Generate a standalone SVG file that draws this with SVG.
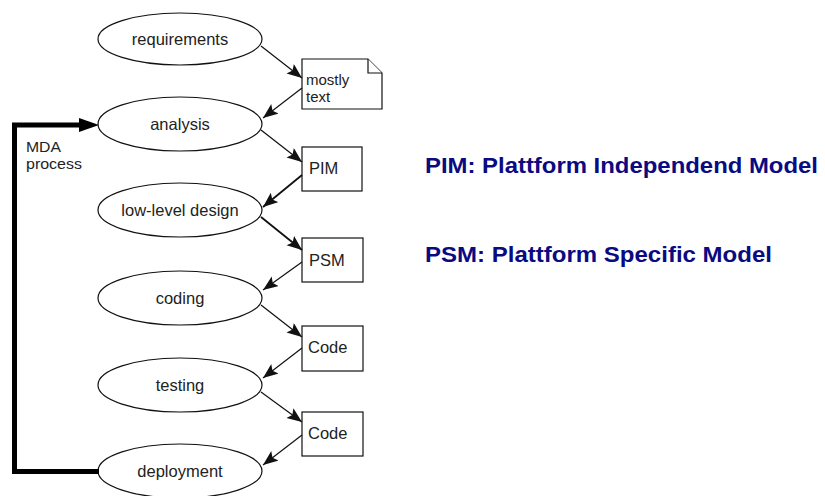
<svg xmlns="http://www.w3.org/2000/svg" width="825" height="496" viewBox="0 0 825 496">
<defs>
<style>
.ell{fill:#fff;stroke:#111;stroke-width:1.2}
.box{fill:#fff;stroke:#111;stroke-width:1.2}
.t{font-family:"Liberation Sans",Arial,sans-serif;font-size:16.5px;fill:#222}
.ts{font-family:"Liberation Sans",Arial,sans-serif;font-size:15px;fill:#222}
.tl{font-family:"Liberation Sans",Arial,sans-serif;font-size:15px;fill:#222}
.c{stroke:#111;stroke-width:1.2;fill:none;marker-end:url(#ah)}
.cb{stroke-width:1.8}
.big{font-family:"Liberation Sans",Arial,sans-serif;font-size:22.5px;font-weight:bold;fill:#0a0a82}
</style>
<marker id="ah" markerUnits="userSpaceOnUse" markerWidth="16" markerHeight="14" refX="15" refY="6" orient="auto">
<path d="M0,0 L15,6 L0,12 L3,6 Z" fill="#111"/>
</marker>
<marker id="ahb" markerUnits="userSpaceOnUse" markerWidth="22" markerHeight="16" refX="4" refY="7" orient="auto">
<path d="M0,0 L20,7 L0,14 Z" fill="#000"/>
</marker>
</defs>

<g id="requirements"><ellipse class="ell" cx="180" cy="39" rx="82" ry="26"/><text class="t" x="180" y="45" text-anchor="middle">requirements</text></g>
<g id="analysis"><ellipse class="ell" cx="180" cy="124" rx="82" ry="27"/><text class="t" x="180" y="130" text-anchor="middle">analysis</text></g>
<g id="low-level-design"><ellipse class="ell" cx="180" cy="210" rx="82" ry="27"/><text class="t" x="180" y="216" text-anchor="middle">low-level design</text></g>
<g id="coding"><ellipse class="ell" cx="180" cy="298" rx="82" ry="27"/><text class="t" x="180" y="304" text-anchor="middle">coding</text></g>
<g id="testing"><ellipse class="ell" cx="180" cy="385" rx="82" ry="27"/><text class="t" x="180" y="391" text-anchor="middle">testing</text></g>
<g id="deployment"><ellipse class="ell" cx="180" cy="471" rx="82" ry="27"/><text class="t" x="180" y="477" text-anchor="middle">deployment</text></g>

<g id="mostly-text"><path class="box" d="M302,59 H368 L382,73 V109 H302 Z"/><path class="box" d="M368,59 V73 H382"/><text class="ts" x="306" y="85">mostly</text><text class="ts" x="306" y="102">text</text></g>
<g id="pim-box"><rect class="box" x="302" y="147" width="60" height="44"/><text class="t" x="309" y="174">PIM</text></g>
<g id="psm-box"><rect class="box" x="302" y="238" width="61" height="44"/><text class="t" x="309" y="266">PSM</text></g>
<g id="code1"><rect class="box" x="302" y="326" width="61" height="45"/><text class="t" x="308" y="353">Code</text></g>
<g id="code2"><rect class="box" x="302" y="412" width="61" height="44"/><text class="t" x="308" y="439">Code</text></g>

<g id="mda-label"><text class="tl" x="26" y="152" textLength="35" lengthAdjust="spacingAndGlyphs">MDA</text><text class="tl" x="26" y="169" textLength="56" lengthAdjust="spacingAndGlyphs">process</text></g>

<g id="connectors">
<line class="c" x1="261" y1="46" x2="302" y2="78"/>
<line class="c" x1="302" y1="88" x2="263" y2="118"/>
<line class="c" x1="261" y1="130" x2="302" y2="162"/>
<line class="c cb" x1="302" y1="175" x2="263" y2="207"/>
<line class="c cb" x1="261" y1="217" x2="302" y2="250"/>
<line class="c" x1="302" y1="262" x2="263" y2="290"/>
<line class="c" x1="261" y1="305" x2="302" y2="337"/>
<line class="c" x1="302" y1="348" x2="263" y2="378"/>
<line class="c" x1="261" y1="392" x2="302" y2="422"/>
<line class="c" x1="302" y1="435" x2="263" y2="465"/>
<path d="M99,471.5 H14.5 V125 H83" fill="none" stroke="#000" stroke-width="5" marker-end="url(#ahb)"/>
</g>

<g id="legend">
<text class="big" x="425" y="173" textLength="393" lengthAdjust="spacingAndGlyphs">PIM: Plattform Independend Model</text>
<text class="big" x="425" y="262" textLength="347" lengthAdjust="spacingAndGlyphs">PSM: Plattform Specific Model</text>
</g>
</svg>
